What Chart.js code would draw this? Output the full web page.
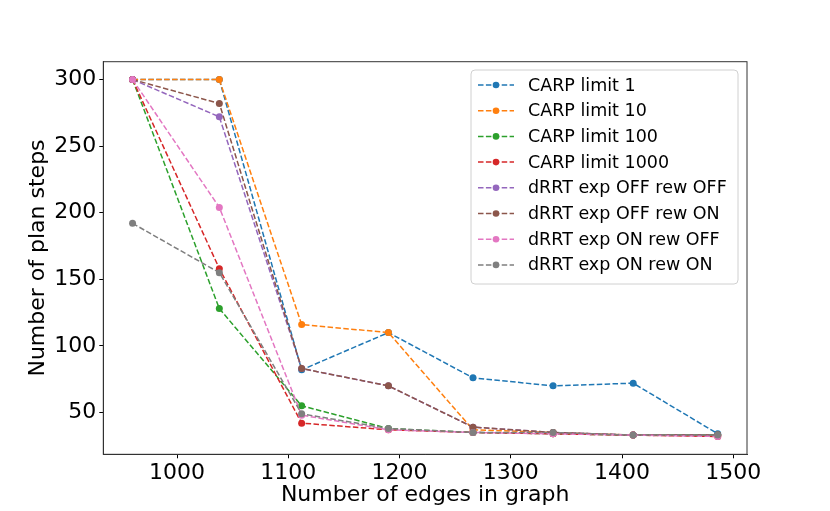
<!DOCTYPE html>
<html>
<head>
<meta charset="utf-8">
<script src="https://cdn.jsdelivr.net/npm/chart.js@4.4.1/dist/chart.umd.min.js"></script>
<style>
html,body{margin:0;padding:0;background:#fff;}
#wrap{width:830px;height:511px;}
</style>
</head>
<body>
<div id="wrap"><canvas id="c" width="830" height="511"></canvas></div>
<script>
const edges = [960, 1038, 1112, 1190, 1266, 1338, 1410, 1486];
const seriesNames = ["CARP limit 1","CARP limit 10","CARP limit 100","CARP limit 1000",
  "dRRT exp OFF rew OFF","dRRT exp OFF rew ON","dRRT exp ON rew OFF","dRRT exp ON rew ON"];
const carp1    = [300, 300, 82, 110, 76, 70, 72, 34];
const carp10   = [300, 300, 116, 110, 37, 35, 33, 33];
const carp100  = [300, 128, 55, 38, 35, 34, 33, 33];
const carp1000 = [300, 158, 42, 37, 35, 34, 33, 32];
const drrtOffOff = [300, 272, 83, 70, 39, 35, 33, 33];
const drrtOffOn  = [300, 282, 83, 70, 39, 35, 33, 33];
const drrtOnOff  = [300, 204, 48, 37, 35, 34, 33, 32];
const drrtOnOn   = [192, 155, 49, 38, 35, 35, 33, 33];
const xTicks = [1000, 1100, 1200, 1300, 1400, 1500];
const yTicks = [50, 100, 150, 200, 250, 300];
const colors = ["#1f77b4","#ff7f0e","#2ca02c","#d62728","#9467bd","#8c564b","#e377c2","#7f7f7f"];
const allSeries = [carp1, carp10, carp100, carp1000, drrtOffOff, drrtOffOn, drrtOnOff, drrtOnOn];

const FONT = "'DejaVu Sans', sans-serif";

const datasets = allSeries.map((s, i) => ({
  label: seriesNames[i],
  data: s.map((v, j) => ({x: edges[j], y: v})),
  borderColor: colors[i],
  backgroundColor: colors[i],
  borderWidth: 1.5,
  borderDash: [5.5, 2.4],
  pointRadius: 3.5,
  pointHoverRadius: 3.5,
  pointBorderWidth: 0,
  tension: 0,
  order: allSeries.length - i
}));

const frameAndLegend = {
  id: 'frameAndLegend',
  afterDraw(chart) {
    const ctx = chart.ctx;
    const a = chart.chartArea;
    ctx.save();
    ctx.strokeStyle = '#333';
    ctx.lineWidth = 1;
    ctx.strokeRect(a.left, a.top, a.right - a.left, a.bottom - a.top);
    // legend
    const bx = 471, by = 70, bw = 267, bh = 214, r = 4;
    ctx.fillStyle = 'rgba(255,255,255,0.85)';
    ctx.strokeStyle = '#d0d0d0';
    ctx.lineWidth = 1;
    ctx.beginPath();
    ctx.moveTo(bx + r, by);
    ctx.lineTo(bx + bw - r, by);
    ctx.quadraticCurveTo(bx + bw, by, bx + bw, by + r);
    ctx.lineTo(bx + bw, by + bh - r);
    ctx.quadraticCurveTo(bx + bw, by + bh, bx + bw - r, by + bh);
    ctx.lineTo(bx + r, by + bh);
    ctx.quadraticCurveTo(bx, by + bh, bx, by + bh - r);
    ctx.lineTo(bx, by + r);
    ctx.quadraticCurveTo(bx, by, bx + r, by);
    ctx.closePath();
    ctx.fill();
    ctx.stroke();
    ctx.font = '17.5px ' + FONT;
    ctx.textBaseline = 'middle';
    ctx.textAlign = 'left';
    chart.data.datasets.forEach((ds, i) => {
      const y = 85 + i * 25.7;
      ctx.strokeStyle = ds.borderColor;
      ctx.lineWidth = 1.5;
      ctx.setLineDash([5.5, 2.4]);
      ctx.beginPath();
      ctx.moveTo(478, y);
      ctx.lineTo(514, y);
      ctx.stroke();
      ctx.setLineDash([]);
      ctx.fillStyle = ds.borderColor;
      ctx.beginPath();
      ctx.arc(496, y, 3.3, 0, Math.PI * 2);
      ctx.fill();
      ctx.fillStyle = '#000';
      ctx.fillText(ds.label, 528, y + 1);
    });
    ctx.restore();
  }
};

new Chart(document.getElementById('c'), {
  type: 'line',
  data: { datasets },
  options: {
    responsive: false,
    devicePixelRatio: 1,
    animation: false,
    events: [],
    layout: { padding: { top: 61.7, right: 83, left: 0, bottom: 0 } },
    plugins: { legend: { display: false }, tooltip: { enabled: false } },
    scales: {
      x: {
        type: 'linear',
        min: 933.7, max: 1512.3,
        afterBuildTicks: s => { s.ticks = xTicks.map(v => ({value: v})); },
        afterFit: s => { s.height = 511 - 454.3; },
        grid: { display: true, drawOnChartArea: false, drawTicks: true, tickLength: 4, color: '#000', lineWidth: 1 },
        border: { display: true, color: '#333', width: 1 },
        ticks: { color: '#000', font: { family: FONT, size: 22 }, padding: 2, maxRotation: 0, autoSkip: false, callback: v => String(v) },
        title: { display: true, text: 'Number of edges in graph', color: '#000', font: { family: FONT, size: 22 }, padding: { top: 0, bottom: 3 } }
      },
      y: {
        type: 'linear',
        min: 18.6, max: 313.4,
        afterBuildTicks: s => { s.ticks = yTicks.map(v => ({value: v})); },
        afterFit: s => { s.width = 103.3; },
        grid: { display: true, drawOnChartArea: false, drawTicks: true, tickLength: 4, color: '#000', lineWidth: 1 },
        border: { display: true, color: '#333', width: 1 },
        ticks: { color: '#000', font: { family: FONT, size: 22 }, padding: 3, autoSkip: false, callback: v => String(v) },
        title: { display: true, text: 'Number of plan steps', color: '#000', font: { family: FONT, size: 22 }, padding: { top: 25, bottom: 0 } }
      }
    }
  },
  plugins: [frameAndLegend]
});
</script>
</body>
</html>
